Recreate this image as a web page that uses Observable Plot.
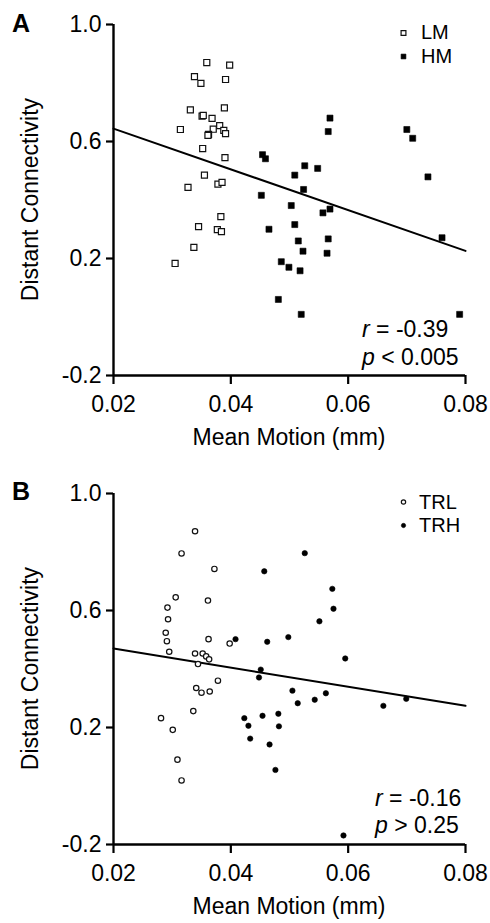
<!DOCTYPE html>
<html>
<head>
<meta charset="utf-8">
<script src="https://cdn.jsdelivr.net/npm/d3@7"></script>
<script src="https://cdn.jsdelivr.net/npm/@observablehq/plot@0.6"></script>
<style>
  html, body { margin: 0; padding: 0; background: #fff; }
  #chart svg { display: block; }
</style>
</head>
<body>
<div id="chart"></div>
<script>
// ---- Data ----
const xTicks = [0.02, 0.04, 0.06, 0.08];
const yTicks = [-0.2, 0.2, 0.6, 1.0];
const xDomain = [0.02, 0.08];
const yDomain = [-0.2, 1.0];

// Panel A: LM (open squares)
const lmX = [0.0359,0.0398,0.0338,0.0349,0.0391,0.0331,0.0389,0.0351,0.0353,0.0368,0.0381,0.0370,0.0388,0.0391,0.0362,0.0361,0.0314,0.0352,0.0390,0.0355,0.0327,0.0378,0.0385,0.0383,0.0345,0.0377,0.0384,0.0337,0.0305];
const lmY = [0.870,0.861,0.822,0.799,0.812,0.708,0.715,0.687,0.689,0.679,0.654,0.642,0.638,0.627,0.624,0.621,0.641,0.576,0.545,0.485,0.443,0.454,0.460,0.343,0.309,0.299,0.292,0.238,0.183];
// Panel A: HM (filled squares)
const hmX = [0.0454,0.0459,0.0569,0.0566,0.0700,0.0710,0.0736,0.0526,0.0548,0.0509,0.0524,0.0452,0.0503,0.0569,0.0557,0.0465,0.0509,0.0515,0.0566,0.0523,0.0564,0.0486,0.0499,0.0518,0.0481,0.0520,0.0760,0.0790];
const hmY = [0.555,0.541,0.680,0.634,0.641,0.611,0.479,0.517,0.508,0.485,0.436,0.416,0.381,0.369,0.356,0.300,0.316,0.260,0.267,0.225,0.218,0.189,0.170,0.158,0.060,0.009,0.271,0.009];
// Panel A fit line
const fitAX = [0.02, 0.08];
const fitAY = [0.644, 0.226];

// Panel B: TRL (open circles)
const trlX = [0.0339,0.0316,0.0372,0.0306,0.0361,0.0292,0.0293,0.0289,0.0291,0.0362,0.0398,0.0295,0.0339,0.0352,0.0358,0.0363,0.0344,0.0378,0.0341,0.0350,0.0364,0.0336,0.0281,0.0301,0.0309,0.0316];
const trlY = [0.871,0.795,0.742,0.645,0.634,0.610,0.570,0.524,0.495,0.502,0.487,0.459,0.453,0.453,0.443,0.433,0.417,0.360,0.335,0.319,0.323,0.256,0.232,0.192,0.090,0.019];
// Panel B: TRH (filled circles)
const trhX = [0.0457,0.0526,0.0573,0.0575,0.0551,0.0498,0.0462,0.0408,0.0595,0.0451,0.0448,0.0505,0.0514,0.0543,0.0562,0.0660,0.0699,0.0454,0.0481,0.0482,0.0466,0.0476,0.0592,0.0423,0.0430,0.0433];
const trhY = [0.734,0.796,0.674,0.606,0.563,0.509,0.493,0.502,0.436,0.398,0.371,0.326,0.283,0.295,0.317,0.274,0.298,0.240,0.247,0.204,0.142,0.055,-0.169,0.232,0.206,0.162];
// Panel B fit line
const fitBX = [0.02, 0.08];
const fitBY = [0.470, 0.274];

const legendA = ["LM", "HM"];
const legendB = ["TRL", "TRH"];
const statsA = {r: "-0.39", p: "< 0.005"};
const statsB = {r: "-0.16", p: "> 0.25"};

const zip = (xs, ys) => xs.map((x, i) => ({x, y: ys[i]}));
const FONT = "'Liberation Sans', Arial, Helvetica, sans-serif";

function panel({open, filled, fit, symbol, r, legend, height, marginTop, marginBottom}) {
  return Plot.plot({
    width: 490, height, marginLeft: 113, marginRight: 25, marginTop, marginBottom,
    style: {fontFamily: FONT, fontSize: "23px", color: "#000", background: "#fff", overflow: "visible"},
    x: {domain: xDomain},
    y: {domain: yDomain},
    marks: [
      Plot.axisX({ticks: xTicks, tickSize: 9, tickPadding: 11, tickFormat: d => d.toFixed(2), fontSize: 23, strokeWidth: 2.2, label: null}),
      Plot.axisY({ticks: yTicks, tickSize: 7, tickPadding: 5, tickFormat: d => d.toFixed(1), fontSize: 23, strokeWidth: 2.2, label: null}),
      Plot.ruleX([xDomain[0]], {stroke: "#000", strokeWidth: 2.4}),
      Plot.ruleY([yDomain[0]], {stroke: "#000", strokeWidth: 2.4}),
      Plot.line(fit, {x: "x", y: "y", stroke: "#000", strokeWidth: 2}),
      Plot.dot(open, {x: "x", y: "y", symbol, r, fill: "#fff", stroke: "#111", strokeWidth: 1.2}),
      Plot.dot(filled, {x: "x", y: "y", symbol, r, fill: "#000", stroke: "#000", strokeWidth: 0.6}),
      // legend markers
      Plot.dot([legend[0]], {frameAnchor: "top-right", dx: -62, dy: 8.5, symbol, r: r * 0.8, fill: "#fff", stroke: "#111", strokeWidth: 1.2}),
      Plot.dot([legend[1]], {frameAnchor: "top-right", dx: -62, dy: 32, symbol, r: r * 0.8, fill: "#000", stroke: "#000", strokeWidth: 0.6})
    ]
  });
}

const root = document.getElementById("chart");

function addText(s, x, y, size, str) {
  return s.append("text").attr("x", x).attr("y", y).attr("font-size", size)
    .attr("font-family", FONT).attr("text-anchor", "start").attr("fill", "#000").text(str);
}

function decorate(svg, {letter, legend, stats, plotTop, plotBottom, statsX, statsY1, statsY2, legendX, legendY1, legendY2, letterY}) {
  const s = d3.select(svg);
  addText(s, 12, letterY, 25, letter).attr("font-weight", "bold");
  // y axis label
  const cy = (plotTop + plotBottom) / 2;
  s.append("text").attr("transform", `translate(38,${cy}) rotate(-90)`).attr("text-anchor", "middle")
    .attr("font-size", 23).attr("font-family", FONT).text("Distant Connectivity");
  // x axis label
  s.append("text").attr("x", 289).attr("y", plotBottom + 70).attr("text-anchor", "middle")
    .attr("font-size", 23).attr("font-family", FONT).text("Mean Motion (mm)");
  // legend labels
  addText(s, legendX, legendY1, 20, legend[0]);
  addText(s, legendX, legendY2, 20, legend[1]);
  // stats
  const t1 = addText(s, statsX, statsY1, 23, "");
  t1.append("tspan").attr("font-style", "italic").text("r");
  t1.append("tspan").text(" = " + stats.r);
  const t2 = addText(s, statsX, statsY2, 23, "");
  t2.append("tspan").attr("font-style", "italic").text("p");
  t2.append("tspan").text(" " + stats.p);
}

const svgA = panel({
  open: zip(lmX, lmY), filled: zip(hmX, hmY), fit: zip(fitAX, fitAY),
  symbol: "square", r: 3.4, legend: legendA, height: 462, marginTop: 24, marginBottom: 87
});
const svgB = panel({
  open: zip(trlX, trlY), filled: zip(trhX, trhY), fit: zip(fitBX, fitBY),
  symbol: "circle", r: 2.7, legend: legendB, height: 461, marginTop: 31, marginBottom: 79
});
root.appendChild(svgA);
root.appendChild(svgB);

decorate(svgA, {letter: "A", legend: legendA, stats: statsA, plotTop: 24, plotBottom: 375,
  statsX: 362, statsY1: 337, statsY2: 365, legendX: 421, legendY1: 39, legendY2: 63, letterY: 32});
decorate(svgB, {letter: "B", legend: legendB, stats: statsB, plotTop: 31, plotBottom: 382,
  statsX: 375, statsY1: 344, statsY2: 371, legendX: 419, legendY1: 47, legendY2: 70, letterY: 38});
</script>
</body>
</html>
